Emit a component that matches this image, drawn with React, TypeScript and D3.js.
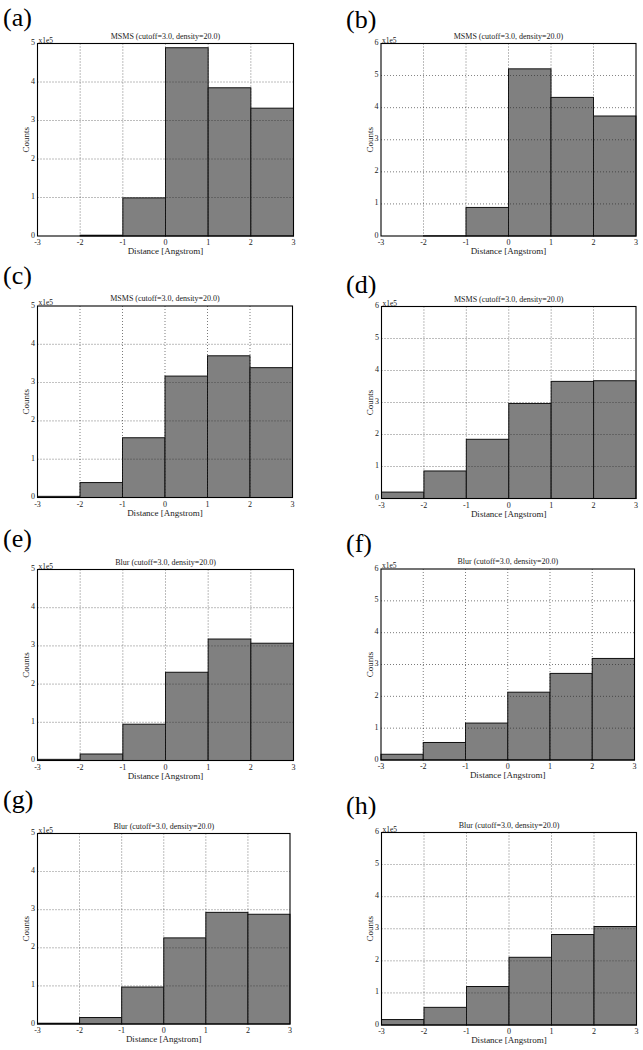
import React from "react";
import * as d3 from "d3";

// ---- Data (counts in units of 1e5) ----
const binEdges = [-3, -2, -1, 0, 1, 2, 3];
const xTicks = [-3, -2, -1, 0, 1, 2, 3];
const panelLetters = ["(a)", "(b)", "(c)", "(d)", "(e)", "(f)", "(g)", "(h)"];
const panelTitles = [
  "MSMS (cutoff=3.0, density=20.0)",
  "MSMS (cutoff=3.0, density=20.0)",
  "MSMS (cutoff=3.0, density=20.0)",
  "MSMS (cutoff=3.0, density=20.0)",
  "Blur (cutoff=3.0, density=20.0)",
  "Blur (cutoff=3.0, density=20.0)",
  "Blur (cutoff=3.0, density=20.0)",
  "Blur (cutoff=3.0, density=20.0)",
];
const yMaxes = [5, 6, 5, 6, 5, 6, 5, 6];
const countsA = [0, 0.02, 0.99, 4.89, 3.85, 3.32];
const countsB = [0, 0.005, 0.89, 5.21, 4.32, 3.74];
const countsC = [0.03, 0.39, 1.56, 3.17, 3.70, 3.39];
const countsD = [0.2, 0.86, 1.85, 2.97, 3.66, 3.68];
const countsE = [0.03, 0.17, 0.95, 2.31, 3.18, 3.07];
const countsF = [0.18, 0.55, 1.16, 2.13, 2.72, 3.19];
const countsG = [0.02, 0.17, 0.97, 2.26, 2.93, 2.88];
const countsH = [0.17, 0.55, 1.2, 2.11, 2.82, 3.07];
const allCounts = [countsA, countsB, countsC, countsD, countsE, countsF, countsG, countsH];

// ---- Layout (pixel boxes of each plot area) ----
const layout = [
  { l: 37.5, r: 293.5, t: 43.5, b: 236, lx: 3, ly: 26 },
  { l: 381, r: 636, t: 43.5, b: 236, lx: 346, ly: 28 },
  { l: 37.5, r: 292.5, t: 306, b: 497.5, lx: 3, ly: 284 },
  { l: 381.5, r: 636, t: 306.5, b: 498.5, lx: 346, ly: 293 },
  { l: 37.5, r: 293.5, t: 569.5, b: 760.5, lx: 3, ly: 547 },
  { l: 381, r: 634.5, t: 569, b: 760, lx: 346, ly: 552 },
  { l: 37.5, r: 290, t: 833.5, b: 1024, lx: 3, ly: 808 },
  { l: 381.5, r: 636.5, t: 832.5, b: 1025, lx: 346, ly: 814 },
];

const FONT = "'Liberation Serif', 'Times New Roman', serif";

function Panel({ idx }: { idx: number }) {
  const L = layout[idx];
  const counts = allCounts[idx];
  const yMax = yMaxes[idx];
  const x = d3.scaleLinear().domain([-3, 3]).range([L.l, L.r]);
  const y = d3.scaleLinear().domain([0, yMax]).range([L.b, L.t]);
  const yTicks = d3.range(0, yMax + 1);
  const bins = counts.map((c, i) => ({ x0: binEdges[i], x1: binEdges[i + 1], c }));
  const cx = (L.l + L.r) / 2;
  const cy = (L.t + L.b) / 2;
  return (
    <g>
      <text x={L.lx} y={L.ly} fontFamily={FONT} fontSize={26} fill="#000">
        {panelLetters[idx]}
      </text>
      <text x={cx} y={L.t - 5} fontFamily={FONT} fontSize={8} textAnchor="middle" fill="#222">
        {panelTitles[idx]}
      </text>
      {bins.map((d, i) => (
        <rect
          key={i}
          x={x(d.x0)}
          y={y(d.c)}
          width={x(d.x1) - x(d.x0)}
          height={L.b - y(d.c)}
          fill="#808080"
          stroke="#111"
          strokeWidth={1}
        />
      ))}
      {xTicks.slice(1, -1).map((t) => (
        <line
          key={"gx" + t}
          x1={x(t)}
          x2={x(t)}
          y1={L.t}
          y2={L.b}
          stroke="#222"
          strokeWidth={0.7}
          strokeDasharray="1,2"
          opacity={0.85}
        />
      ))}
      {yTicks.slice(1, -1).map((t) => (
        <line
          key={"gy" + t}
          x1={L.l}
          x2={L.r}
          y1={y(t)}
          y2={y(t)}
          stroke="#222"
          strokeWidth={0.7}
          strokeDasharray="1,2"
          opacity={0.85}
        />
      ))}
      <rect x={L.l} y={L.t} width={L.r - L.l} height={L.b - L.t} fill="none" stroke="#000" strokeWidth={1.1} />
      {xTicks.map((t) => (
        <text key={"xt" + t} x={x(t)} y={L.b + 9} fontFamily={FONT} fontSize={8} textAnchor="middle" fill="#222">
          {t}
        </text>
      ))}
      {yTicks.map((t) => (
        <text key={"yt" + t} x={L.l - 2.5} y={y(t) + 1.5} fontFamily={FONT} fontSize={8} textAnchor="end" fill="#222">
          {t}
        </text>
      ))}
      <text x={L.l + 1} y={L.t - 1} fontFamily={FONT} fontSize={7.5} fill="#222">
        x1e5
      </text>
      <text x={cx} y={L.b + 18} fontFamily={FONT} fontSize={9} textAnchor="middle" fill="#222">
        Distance [Angstrom]
      </text>
      <text
        transform={`translate(${L.l - 8.5},${cy}) rotate(-90)`}
        fontFamily={FONT}
        fontSize={9}
        textAnchor="middle"
        fill="#222"
      >
        Counts
      </text>
    </g>
  );
}

export default function App() {
  return (
    <svg width={643} height={1050} style={{ position: "absolute", left: 0, top: 0, background: "#fff" }}>
      <rect width={643} height={1050} fill="#fff" />
      {layout.map((_, i) => (
        <Panel key={i} idx={i} />
      ))}
    </svg>
  );
}
